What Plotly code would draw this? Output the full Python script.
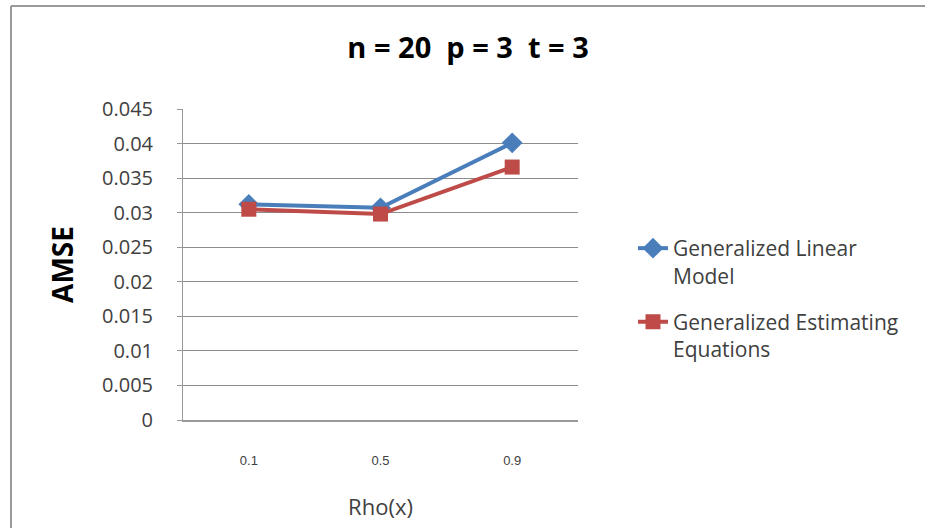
import plotly.graph_objects as go

categories = ["0.1", "0.5", "0.9"]
glm_values = [0.0312, 0.0307, 0.0401]
gee_values = [0.0305, 0.0298, 0.0366]
y_ticks = [0, 0.005, 0.01, 0.015, 0.02, 0.025, 0.03, 0.035, 0.04, 0.045]
y_tick_labels = ["0", "0.005", "0.01", "0.015", "0.02", "0.025", "0.03", "0.035", "0.04", "0.045"]

W, H = 925, 528
ML, MR, MT, MB = 183, 347, 109, 108
FONT = "Open Sans, Lato, sans-serif"

fig = go.Figure()
fig.add_trace(go.Scatter(
    x=categories, y=glm_values, mode="lines+markers",
    name="Generalized Linear<br>Model", legendgroup="glm",
    line=dict(color="#4A7EBB", width=4),
    marker=dict(symbol="diamond", size=16, color="#4A7EBB"),
))
fig.add_trace(go.Scatter(
    x=categories, y=gee_values, mode="lines+markers",
    name="Generalized Estimating<br>Equations", legendgroup="gee",
    line=dict(color="#BE4B48", width=4),
    marker=dict(symbol="square", size=15, color="#BE4B48"),
))

pw = W - ML - MR
ph = H - MT - MB
# outer chart border (left and top visible)
top_y = (ph + MT - 6) / ph
left_x = (11 - ML) / pw
fig.add_shape(type="line", xref="paper", yref="paper",
              x0=left_x, x1=left_x, y0=top_y, y1=-(MB + 20) / ph,
              line=dict(color="#999999", width=2))
fig.add_shape(type="line", xref="paper", yref="paper",
              x0=left_x, x1=(W + 20 - ML) / pw, y0=top_y, y1=top_y,
              line=dict(color="#999999", width=2))

fig.update_layout(
    width=W, height=H,
    margin=dict(l=ML, r=MR, t=MT, b=MB),
    paper_bgcolor="white", plot_bgcolor="white",
    title=dict(text="<b>n = 20 &nbsp;p = 3 &nbsp;t = 3</b>", x=0.506, xanchor="center",
               y=1 - 48 / H, yanchor="middle",
               font=dict(family=FONT, size=29, color="#000000")),
    font=dict(family=FONT, color="#404040"),
    legend=dict(x=(633 - ML) / pw, y=(H - MB - 228) / ph, xanchor="left", yanchor="top",
                font=dict(size=21, color="#404040"), tracegroupgap=16, valign="top",
                bgcolor="rgba(0,0,0,0)"),
    showlegend=True,
)
fig.update_xaxes(
    type="category", range=[-0.5, 2.5],
    showline=True, linecolor="#999999", linewidth=2,
    showgrid=False, ticks="", ticklabelstandoff=27,
    tickfont=dict(family="Liberation Sans, Arial, sans-serif", size=13, color="#404040"),
    title=dict(text="Rho(x)", font=dict(family=FONT, size=22, color="#404040"), standoff=33),
)
fig.update_yaxes(
    range=[0, 0.045], tickvals=y_ticks, ticktext=y_tick_labels,
    showline=True, linecolor="#999999", linewidth=1,
    showgrid=True, gridcolor="#8c8c8c", gridwidth=1, zeroline=False,
    ticks="outside", ticklen=5, tickcolor="#999999", ticklabelstandoff=20,
    tickfont=dict(family=FONT, size=20, color="#404040"),
    title=dict(text="<b>AMSE</b>", font=dict(family=FONT, size=28, color="#000000"), standoff=20),
)

fig.write_html("out.html")
